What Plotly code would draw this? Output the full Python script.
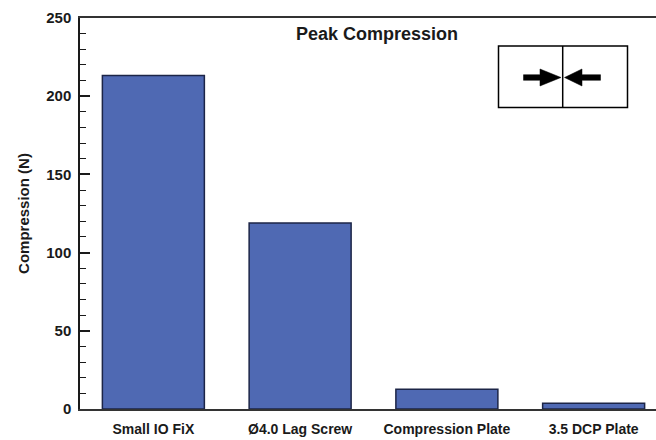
import plotly.graph_objects as go

categories = ["Small IO FiX", "Ø4.0 Lag Screw", "Compression Plate", "3.5 DCP Plate"]
compression = [213.3, 119.0, 12.7, 3.6]
y_ticks = [0, 50, 100, 150, 200, 250]

W, H = 656, 440
L, R, T, B = 80, 0, 18, 31
PW, PH = W - L - R, H - T - B


def px(x):
    return (x - L) / PW


def py(y):
    return (H - B - y) / PH


fig = go.Figure()
fig.add_trace(go.Bar(
    x=categories, y=compression,
    marker=dict(color="#4f69b3", line=dict(color="#1c2547", width=1.5)),
    width=0.695,
))

font_family = "Liberation Sans, Arial, sans-serif"

shapes = []
shapes.append(dict(type="rect", xref="paper", yref="paper",
                   x0=px(498.5), x1=px(627.5), y0=py(107.5), y1=py(46),
                   line=dict(color="black", width=1.5), fillcolor="white"))
shapes.append(dict(type="line", xref="paper", yref="paper",
                   x0=px(562.7), x1=px(562.7), y0=py(107.5), y1=py(46),
                   line=dict(color="black", width=1.5)))


def path_from(points):
    return "M " + " L ".join(f"{px(a):.5f},{py(b):.5f}" for a, b in points) + " Z"


cy = 77.5
right_arrow = [(523.5, cy - 2.8), (540, cy - 2.8), (540, cy - 8.5), (561, cy),
               (540, cy + 8.5), (540, cy + 2.8), (523.5, cy + 2.8)]
left_arrow = [(600.5, cy - 2.8), (582, cy - 2.8), (582, cy - 8.5), (564.5, cy),
              (582, cy + 8.5), (582, cy + 2.8), (600.5, cy + 2.8)]
for pts in (right_arrow, left_arrow):
    shapes.append(dict(type="path", xref="paper", yref="paper", path=path_from(pts),
                       fillcolor="black", line=dict(color="black", width=0.5)))

fig.update_layout(
    width=W, height=H,
    margin=dict(l=L, r=R, t=T, b=B, autoexpand=False),
    paper_bgcolor="white", plot_bgcolor="white",
    font=dict(family=font_family, color="#1a1a1a"),
    showlegend=False,
    shapes=shapes,
    annotations=[dict(text="<b>Peak Compression</b>", xref="paper", yref="paper",
                      x=px(377), y=py(34), xanchor="center", yanchor="middle",
                      showarrow=False, font=dict(size=18, family=font_family, color="#1a1a1a"))],
    xaxis=dict(
        range=[-0.5, 3.425], showgrid=False, zeroline=False,
        showline=True, linecolor="#333333", linewidth=1.5, mirror=True,
        ticks="", tickfont=dict(size=14, family=font_family, color="#1a1a1a", weight="bold"),
        ticklabelstandoff=6,
    ),
    yaxis=dict(
        range=[0, 250], tickvals=y_ticks, showgrid=False, zeroline=False,
        showline=True, linecolor="#1a1a1a", linewidth=1.5,
        ticks="inside", ticklen=10, tickwidth=1.5, tickcolor="#1a1a1a",
        minor=dict(dtick=10, ticks="inside", ticklen=6, tickwidth=1.2, tickcolor="#1a1a1a"),
        tickfont=dict(size=15, family=font_family, color="#1a1a1a", weight="bold"),
        ticklabelstandoff=4,
        title=dict(text="<b>Compression (N)</b>", font=dict(size=15, family=font_family, color="#1a1a1a"),
                   standoff=13),
    ),
)

fig.write_html(
    "out.html",
    config={"displayModeBar": False},
    post_script="document.body.style.margin='0';document.body.style.padding='0';document.body.style.overflow='hidden';",
)
